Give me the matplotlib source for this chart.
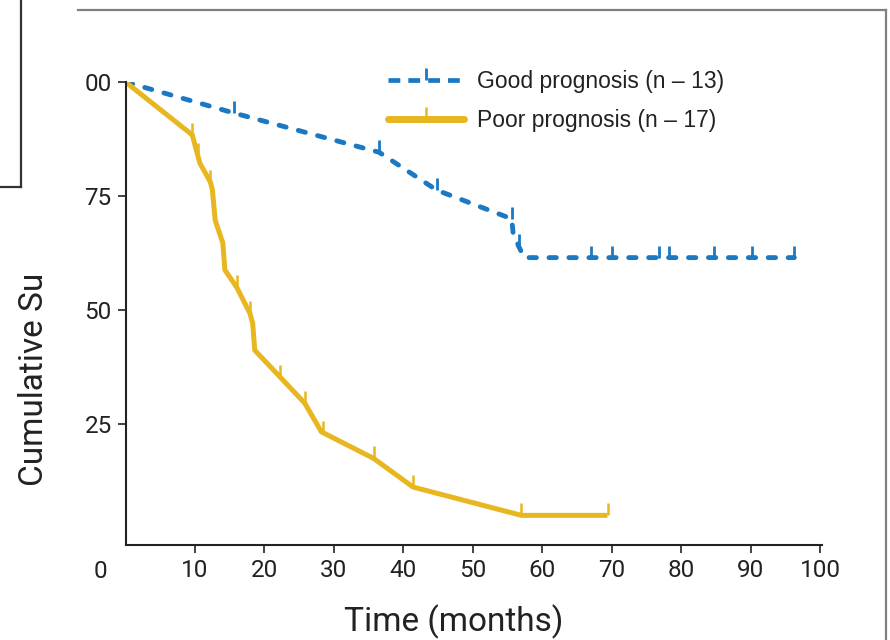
import matplotlib
matplotlib.use('Agg')
import matplotlib.pyplot as plt
from matplotlib.lines import Line2D
from matplotlib.path import Path
import numpy as np

plt.rcParams['font.family'] = ['Roboto', 'DejaVu Sans']

# Good prognosis curve (months, % surviving)
good_t = [0, 15.6, 36.5, 44.8, 55.6, 55.8, 56.6, 57.4, 96.3]
good_s = [100, 93.2, 84.6, 76.3, 70.0, 67.0, 64.0, 61.5, 61.5]
good_cens = [15.6, 36.5, 44.8, 55.6, 56.6, 67.0, 70.0, 76.8, 78.2, 84.7, 90.2, 96.3]

# Poor prognosis curve
poor_t = [0, 9.6, 10.7, 12.2, 12.5, 12.9, 14.0, 14.3, 16.0, 17.9, 18.3, 18.6,
          22.2, 25.8, 28.2, 35.7, 41.4, 57.0, 69.4]
poor_s = [100, 88.4, 82.2, 78.1, 76.3, 69.7, 64.7, 58.8, 55.0, 49.3, 47.1, 41.2,
          35.4, 29.6, 23.3, 17.5, 11.2, 5.0, 5.0]
poor_cens = [0, 9.6, 10.4, 12.2, 16.0, 17.9, 22.2, 25.8, 28.4, 35.7, 41.4, 57.0, 69.4]

xticks = [10, 20, 30, 40, 50, 60, 70, 80, 90, 100]
yticks = [25, 50, 75, 100]
ytick_labels = ['25', '50', '75', '00']

blue = '#1b78c2'
gold = '#e8b61f'

# censor tick: vertical stroke going up from the point
tick = Path([(0, 0), (0, 1)])

fig = plt.figure(figsize=(8.9, 6.4), dpi=100)
ax = fig.add_axes([125.6 / 890, 95 / 640, 100.3 * 6.944 / 890, 463 / 640])

ax.plot(good_t, good_s, color=blue, lw=3.5, linestyle=(0, (1.5, 2.6)),
        dash_capstyle='round')
ax.plot(good_cens, np.interp(good_cens, good_t, good_s), linestyle='none',
        marker=tick, markersize=17, markeredgewidth=2, color=blue)

ax.plot(poor_t, poor_s, color=gold, lw=3.6, solid_capstyle='butt')
ax.plot(poor_cens, np.interp(poor_cens, poor_t, poor_s), linestyle='none',
        marker=tick, markersize=17, markeredgewidth=1.8, color=gold)

ax.set_xlim(0, 100.3)
ax.set_ylim(-1.5, 100)
ax.set_xticks(xticks)
ax.set_xticklabels([str(v) for v in xticks])
ax.set_yticks(yticks)
ax.set_yticklabels(ytick_labels)
ax.tick_params(axis='both', length=6, width=1.2, color='#222222',
               labelsize=17.5, pad=4, labelcolor='#222222')
for side in ['top', 'right']:
    ax.spines[side].set_visible(False)
for side in ['left', 'bottom']:
    ax.spines[side].set_linewidth(1.5)
    ax.spines[side].set_color('#222222')

ax.set_xlabel('Time (months)', fontsize=24, color='#222222')
ax.xaxis.set_label_coords((454 - 125.6) / (100.3 * 6.944), -(622 - 545) / 463)
ax.xaxis.label.set_va('center')
fig.text(34 / 890, 1 - 379 / 640, 'Cumulative Su', rotation=90, fontsize=24,
         color='#222222', ha='center', va='center')
fig.text(100 / 890, 1 - 571 / 640, '0', fontsize=17.5, color='#222222',
         ha='center', va='center')

h_good = Line2D([], [], color=blue, lw=3.4, linestyle=(0, (2.5, 1.7)),
                marker=tick, markersize=17, markeredgewidth=2)
h_poor = Line2D([], [], color=gold, lw=5, solid_capstyle='round',
                marker=tick, markersize=17, markeredgewidth=1.8)
leg = ax.legend([h_good, h_poor], ['Good prognosis (n \u2013 13)', 'Poor prognosis (n \u2013 17)'],
                loc='upper left', bbox_to_anchor=(388 / 890, 1 - 70 / 640),
                bbox_transform=fig.transFigure, frameon=False, numpoints=1,
                handlelength=3.3, handletextpad=0.6, labelspacing=0.7,
                borderpad=0, borderaxespad=0,
                prop={'family': ['Liberation Sans', 'DejaVu Sans'], 'size': 16.5})
for t in leg.get_texts():
    t.set_color('#222222')

# framing lines of the cropped figure
fig.add_artist(Line2D([78 / 890, 886 / 890], [1 - 10 / 640, 1 - 10 / 640],
                      color='#808080', lw=1.6, transform=fig.transFigure))
fig.add_artist(Line2D([886 / 890, 886 / 890], [1 - 10 / 640, 0],
                      color='#808080', lw=1.6, transform=fig.transFigure))
fig.add_artist(Line2D([21 / 890, 21 / 890], [1, 1 - 187 / 640],
                      color='#333333', lw=1.6, transform=fig.transFigure))
fig.add_artist(Line2D([0, 21 / 890], [1 - 187 / 640, 1 - 187 / 640],
                      color='#333333', lw=1.6, transform=fig.transFigure))

fig.savefig('out.png', dpi=100)
